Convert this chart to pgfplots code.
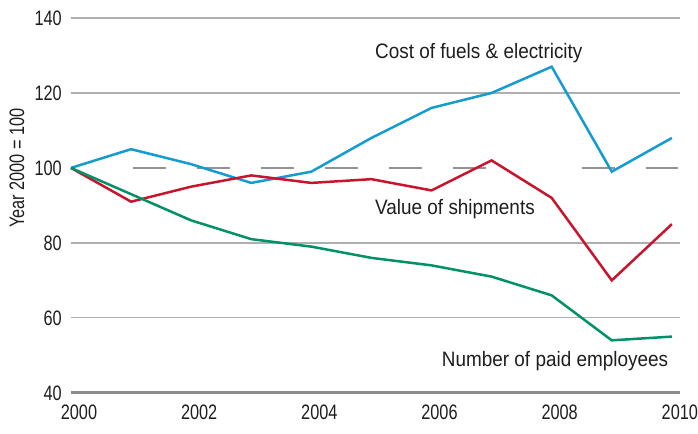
\documentclass[border=0pt]{standalone}
\usepackage{fontspec}
\setmainfont{Liberation Sans}[FakeStretch=0.905]
\newfontfamily\tickfont{Liberation Sans}[FakeStretch=0.78]
\usepackage{pgfplots}
\pgfplotsset{compat=1.18}
\definecolor{cblue}{RGB}{20,155,208}
\definecolor{cred}{RGB}{200,20,45}
\definecolor{cgreen}{RGB}{0,145,105}
\definecolor{gridc}{RGB}{175,175,175}
\definecolor{txt}{RGB}{30,30,30}
\begin{document}
\begin{tikzpicture}
\begin{axis}[
  scale only axis, width=609bp, height=375bp,
  at={(0,0)}, anchor=south west,
  xmin=2000, xmax=2010.13, ymin=40, ymax=140,
  axis line style={draw=none}, major tick length=0pt,
  xtick={2000,2002,...,2010}, ytick={40,60,...,140},
  /pgf/number format/1000 sep={},
  /pgf/number format/assume math mode=true,
  xticklabel style={font=\tickfont\fontsize{21}{25}\selectfont, text=txt, anchor=north, inner sep=0pt, yshift=-12bp, xshift=8bp},
  yticklabel style={font=\tickfont\fontsize{21}{25}\selectfont, text=txt, anchor=east, inner sep=0pt, xshift=-9bp},
  ylabel={Year 2000 = 100},
  ylabel style={font=\tickfont\fontsize{21}{25}\selectfont, text=txt, at={(axis description cs:-0.0887,0.6)}, anchor=center},
  clip=false,
]
\draw[gridc, line width=1.3bp] (axis cs:2000,60) -- (axis cs:2010.13,60);
\draw[gridc, line width=1.3bp] (axis cs:2000,80) -- (axis cs:2010.13,80);
\draw[gridc, line width=1.3bp] (axis cs:2000,120) -- (axis cs:2010.13,120);
\draw[gridc, line width=1.3bp] (axis cs:2000,140) -- (axis cs:2010.13,140);
\draw[gray!85, line width=1.6bp, dash pattern=on 33bp off 31bp] (axis cs:2001.03,100) -- (axis cs:2006.92,100);
\draw[gray!85, line width=1.6bp, dash pattern=on 33bp off 31bp] (axis cs:2008.5,100) -- (axis cs:2010.1,100);
\draw[gray!90, line width=3bp] (axis cs:2000,40) -- (axis cs:2010.13,40);

\addplot[cblue, line width=2.5bp, mark=none] coordinates {
(2000,100) (2001,105) (2002,101) (2003,96) (2004,99) (2005,108) (2006,116) (2007,120) (2008,127) (2009,99) (2010,108)};
\addplot[cred, line width=2.5bp, mark=none] coordinates {
(2000,100) (2001,91) (2002,95) (2003,98) (2004,96) (2005,97) (2006,94) (2007,102) (2008,92) (2009,70) (2010,85)};
\addplot[cgreen, line width=2.5bp, mark=none] coordinates {
(2000,100) (2001,93) (2002,86) (2003,81) (2004,79) (2005,76) (2006,74) (2007,71) (2008,66) (2009,54) (2010,55)};

\node[anchor=base west, inner sep=0pt, text=txt, font=\fontsize{21}{25}\selectfont] at (axis cs:2005.06,129.3) {Cost of fuels \& electricity};
\node[anchor=base west, inner sep=0pt, text=txt, font=\fontsize{21}{25}\selectfont] at (axis cs:2005.06,87.5) {Value of shipments};
\node[anchor=base west, inner sep=0pt, text=txt, font=\fontsize{21}{25}\selectfont] at (axis cs:2006.17,46.9) {Number of paid employees};
\end{axis}
\path[use as bounding box] (-71bp,-41bp) rectangle (627bp,393bp);
\end{tikzpicture}
\end{document}
